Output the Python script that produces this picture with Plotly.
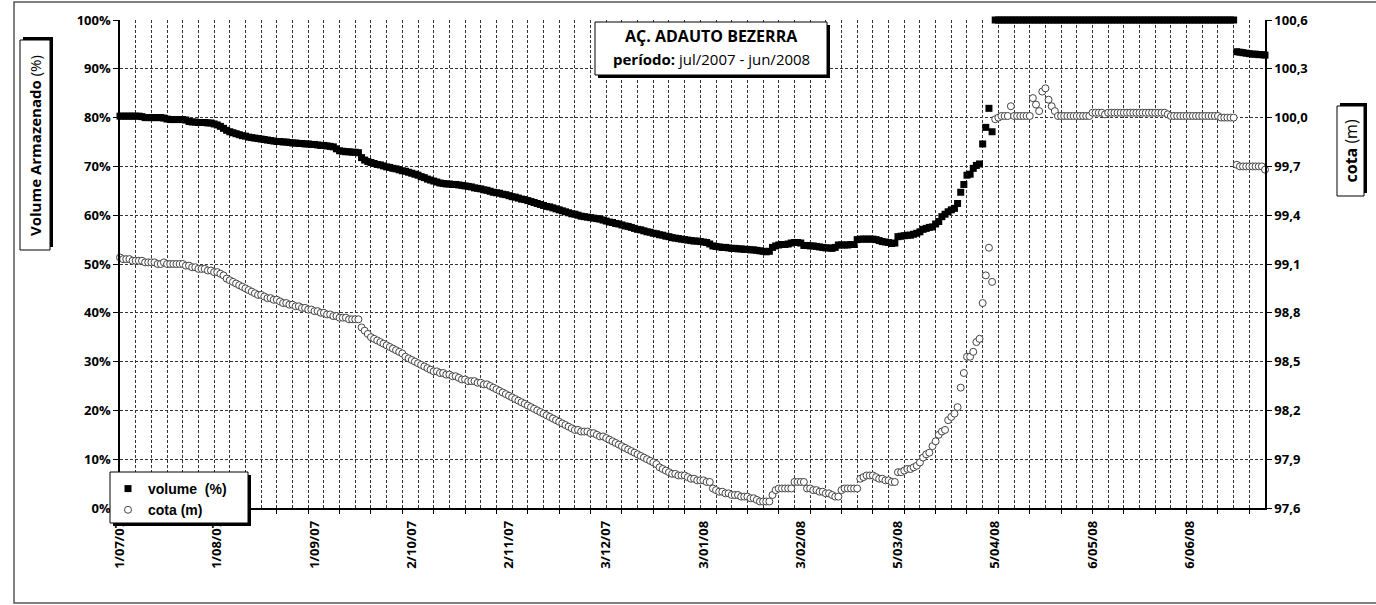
import plotly.graph_objects as go
import pandas as pd

# ---------------- data ----------------
dates = pd.date_range("2007-07-01", "2008-06-30", freq="D")

volume_pct = [
    80.3, 80.3, 80.3, 80.3, 80.3, 80.3, 80.3, 80.2, 80.0, 80.0,
    80.0, 80.0, 80.0, 80.0, 79.9, 79.7, 79.6, 79.6, 79.6, 79.6,
    79.6, 79.5, 79.2, 79.1, 79.1, 79.0, 79.0, 79.0, 78.9, 78.9,
    78.7, 78.5, 78.2, 77.8, 77.4, 77.1, 76.9, 76.7, 76.5, 76.3,
    76.2, 76.0, 75.9, 75.8, 75.7, 75.6, 75.5, 75.4, 75.3, 75.2,
    75.1, 75.1, 75.0, 75.0, 74.9, 74.8, 74.8, 74.7, 74.7, 74.6,
    74.6, 74.5, 74.5, 74.4, 74.3, 74.3, 74.2, 74.1, 74.0, 73.6,
    73.2, 73.1, 73.0, 73.0, 72.9, 72.9, 72.8, 71.8, 71.3, 71.0,
    70.8, 70.6, 70.4, 70.3, 70.1, 69.9, 69.8, 69.6, 69.5, 69.3,
    69.1, 69.0, 68.8, 68.6, 68.4, 68.2, 67.9, 67.7, 67.4, 67.2,
    67.0, 66.8, 66.6, 66.5, 66.4, 66.4, 66.3, 66.3, 66.2, 66.1,
    66.0, 65.9, 65.8, 65.6, 65.5, 65.4, 65.2, 65.1, 64.9, 64.7,
    64.6, 64.5, 64.3, 64.2, 64.0, 63.8, 63.7, 63.5, 63.3, 63.2,
    63.0, 62.8, 62.6, 62.4, 62.2, 62.0, 61.8, 61.7, 61.5, 61.3,
    61.1, 60.9, 60.7, 60.5, 60.3, 60.2, 60.0, 59.8, 59.7, 59.6,
    59.5, 59.4, 59.3, 59.2, 59.0, 58.8, 58.6, 58.5, 58.3, 58.2,
    58.0, 57.8, 57.7, 57.5, 57.3, 57.1, 57.0, 56.8, 56.6, 56.5,
    56.3, 56.2, 56.0, 55.9, 55.7, 55.6, 55.4, 55.3, 55.2, 55.1,
    55.0, 54.9, 54.8, 54.7, 54.7, 54.6, 54.5, 54.4, 54.1, 53.7,
    53.6, 53.5, 53.4, 53.4, 53.3, 53.2, 53.2, 53.1, 53.1, 53.0,
    53.0, 52.9, 52.9, 52.8, 52.7, 52.6, 52.5, 52.6, 53.4, 53.7,
    53.9, 54.0, 54.0, 54.1, 54.3, 54.4, 54.4, 54.3, 53.8, 53.8,
    53.7, 53.7, 53.6, 53.5, 53.4, 53.3, 53.3, 53.2, 53.4, 53.9,
    53.9, 53.9, 53.9, 54.0, 54.0, 55.0, 55.1, 55.1, 55.1, 55.1,
    55.1, 55.0, 54.8, 54.6, 54.5, 54.4, 54.2, 54.3, 55.6, 55.7,
    55.8, 55.9, 55.9, 56.1, 56.3, 56.6, 57.1, 57.3, 57.5, 57.6,
    58.2, 58.7, 59.7, 60.2, 60.7, 61.1, 61.4, 62.4, 64.7, 66.3,
    68.2, 68.4, 69.6, 70.2, 70.5, 74.6, 78.0, 81.9, 77.1, 100.0,
    100.0, 100.0, 100.0, 100.0, 100.0, 100.0, 100.0, 100.0, 100.0, 100.0,
    100.0, 100.0, 100.0, 100.0, 100.0, 100.0, 100.0, 100.0, 100.0, 100.0,
    100.0, 100.0, 100.0, 100.0, 100.0, 100.0, 100.0, 100.0, 100.0, 100.0,
    100.0, 100.0, 100.0, 100.0, 100.0, 100.0, 100.0, 100.0, 100.0, 100.0,
    100.0, 100.0, 100.0, 100.0, 100.0, 100.0, 100.0, 100.0, 100.0, 100.0,
    100.0, 100.0, 100.0, 100.0, 100.0, 100.0, 100.0, 100.0, 100.0, 100.0,
    100.0, 100.0, 100.0, 100.0, 100.0, 100.0, 100.0, 100.0, 100.0, 100.0,
    100.0, 100.0, 100.0, 100.0, 100.0, 100.0, 93.5, 93.4, 93.3, 93.2,
    93.1, 93.0, 93.0, 92.9, 92.9, 92.8,
]

cota_m = [
    99.14, 99.13, 99.13, 99.13, 99.12, 99.12, 99.12, 99.12, 99.11, 99.11,
    99.11, 99.11, 99.10, 99.10, 99.11, 99.10, 99.10, 99.10, 99.10, 99.10,
    99.10, 99.09, 99.09, 99.08, 99.08, 99.07, 99.07, 99.07, 99.06, 99.06,
    99.05, 99.05, 99.04, 99.03, 99.01, 99.00, 98.99, 98.98, 98.97, 98.96,
    98.95, 98.94, 98.93, 98.92, 98.91, 98.91, 98.90, 98.89, 98.89, 98.88,
    98.88, 98.87, 98.86, 98.86, 98.85, 98.85, 98.84, 98.84, 98.83, 98.83,
    98.82, 98.82, 98.81, 98.81, 98.80, 98.80, 98.79, 98.79, 98.78, 98.78,
    98.77, 98.77, 98.77, 98.76, 98.76, 98.76, 98.76, 98.71, 98.69, 98.67,
    98.65, 98.64, 98.63, 98.62, 98.61, 98.60, 98.59, 98.58, 98.57, 98.56,
    98.55, 98.53, 98.52, 98.51, 98.50, 98.49, 98.48, 98.47, 98.46, 98.45,
    98.44, 98.44, 98.43, 98.43, 98.42, 98.42, 98.41, 98.41, 98.40, 98.39,
    98.39, 98.38, 98.38, 98.38, 98.37, 98.37, 98.36, 98.36, 98.35, 98.34,
    98.33, 98.32, 98.31, 98.30, 98.29, 98.28, 98.27, 98.26, 98.25, 98.24,
    98.23, 98.22, 98.21, 98.20, 98.19, 98.18, 98.17, 98.16, 98.15, 98.14,
    98.13, 98.12, 98.11, 98.10, 98.09, 98.08, 98.08, 98.07, 98.07, 98.07,
    98.06, 98.06, 98.05, 98.04, 98.04, 98.03, 98.02, 98.01, 98.00, 97.99,
    97.98, 97.97, 97.96, 97.95, 97.94, 97.93, 97.92, 97.91, 97.90, 97.89,
    97.88, 97.87, 97.85, 97.84, 97.83, 97.82, 97.81, 97.81, 97.80, 97.80,
    97.80, 97.79, 97.78, 97.78, 97.77, 97.77, 97.77, 97.76, 97.76, 97.72,
    97.71, 97.70, 97.70, 97.69, 97.69, 97.68, 97.68, 97.68, 97.67, 97.67,
    97.67, 97.66, 97.66, 97.65, 97.64, 97.64, 97.64, 97.64, 97.68, 97.71,
    97.72, 97.72, 97.72, 97.72, 97.72, 97.76, 97.76, 97.76, 97.76, 97.72,
    97.72, 97.71, 97.71, 97.70, 97.70, 97.69, 97.69, 97.68, 97.67, 97.67,
    97.71, 97.72, 97.72, 97.72, 97.72, 97.72, 97.78, 97.79, 97.80, 97.80,
    97.80, 97.79, 97.78, 97.78, 97.77, 97.77, 97.76, 97.76, 97.82, 97.82,
    97.83, 97.84, 97.84, 97.85, 97.86, 97.88, 97.91, 97.93, 97.94, 97.98,
    98.01, 98.05, 98.07, 98.08, 98.14, 98.16, 98.18, 98.22, 98.34, 98.43,
    98.53, 98.53, 98.56, 98.62, 98.64, 98.86, 99.03, 99.20, 98.99, 99.99,
    100.00, 100.01, 100.01, 100.01, 100.07, 100.01, 100.01, 100.01, 100.01, 100.01,
    100.01, 100.12, 100.08, 100.04, 100.16, 100.18, 100.11, 100.07, 100.04, 100.01,
    100.01, 100.01, 100.01, 100.01, 100.01, 100.01, 100.01, 100.01, 100.01, 100.01,
    100.03, 100.03, 100.03, 100.03, 100.02, 100.03, 100.03, 100.03, 100.03, 100.03,
    100.03, 100.03, 100.03, 100.03, 100.03, 100.03, 100.03, 100.03, 100.03, 100.03,
    100.03, 100.03, 100.03, 100.03, 100.02, 100.01, 100.01, 100.01, 100.01, 100.01,
    100.01, 100.01, 100.01, 100.01, 100.01, 100.01, 100.01, 100.01, 100.01, 100.01,
    100.01, 100.00, 100.00, 100.00, 100.00, 100.00, 99.71, 99.70, 99.70, 99.70,
    99.70, 99.70, 99.70, 99.70, 99.70, 99.68,
]

tick_dates = ["2007-07-01", "2007-08-01", "2007-09-01", "2007-10-02", "2007-11-02", "2007-12-03",
              "2008-01-03", "2008-02-03", "2008-03-05", "2008-04-05", "2008-05-06", "2008-06-06"]
tick_labels = ["1/07/07", "1/08/07", "1/09/07", "2/10/07", "2/11/07", "3/12/07",
               "3/01/08", "3/02/08", "5/03/08", "5/04/08", "6/05/08", "6/06/08"]

# ---------------- layout helpers ----------------
FW, FH = 1376, 605
L, T, W, H = 120, 20, 1145, 488
DAY = 86400000


def px(x):
    return (x - L) / W


def py(y):
    return (T + H - y) / H


def rect(x0, y0, x1, y1, fill, line="black", lw=1):
    return dict(type="rect", xref="paper", yref="paper", layer="above",
                x0=px(x0), x1=px(x1), y0=py(y1), y1=py(y0),
                fillcolor=fill, line=dict(color=line, width=lw))


TICKFONT = dict(family="Open Sans", size=13, color="black", weight="bold")
GRID = dict(gridcolor="#333333", griddash="3px,2px", gridwidth=1)

fig = go.Figure()
fig.add_trace(go.Scatter(
    x=dates, y=volume_pct, name="volume  (%)", mode="markers",
    marker=dict(symbol="square", size=7, color="black", line=dict(width=0)),
    cliponaxis=False, legendgroup="a"))
fig.add_trace(go.Scatter(
    x=dates, y=cota_m, name="cota (m)", mode="markers", yaxis="y2",
    marker=dict(symbol="circle", size=7, color="white", line=dict(color="#444444", width=1)),
    cliponaxis=False, legendgroup="b"))
fig.add_trace(go.Scatter(x=[], y=[], xaxis="x2", yaxis="y", showlegend=False, hoverinfo="skip"))

fig.update_layout(
    width=FW, height=FH,
    margin=dict(l=L, r=FW - L - W, t=T, b=FH - T - H, pad=0),
    plot_bgcolor="white", paper_bgcolor="white",
    separators=",.",
    font=dict(family="Open Sans", color="black"),
    xaxis=dict(
        type="date", range=[dates[0], dates[-1]],
        tickmode="array", tickvals=tick_dates, ticktext=tick_labels,
        tickangle=-90, ticks="", showgrid=False, zeroline=False,
        showline=True, linecolor="black", linewidth=1.5,
        tickfont=TICKFONT, ticklabelstandoff=6,
        minor=dict(tickmode="linear", tick0="2007-07-01", dtick=5 * DAY,
                   showgrid=True, ticks="", **GRID),
    ),
    xaxis2=dict(
        type="date", range=[dates[0], dates[-1]], overlaying="x", anchor="y", side="bottom",
        tickmode="linear", tick0="2007-07-01", dtick=10 * DAY,
        ticks="outside", ticklen=5, tickcolor="black", tickwidth=1,
        showticklabels=False, showgrid=False, showline=False, zeroline=False,
    ),
    yaxis=dict(
        range=[0, 100], tickmode="linear", tick0=0, dtick=10, ticksuffix="%",
        ticks="outside", ticklen=5, tickcolor="black",
        showline=True, linecolor="black", linewidth=1.5,
        showgrid=True, zeroline=False, tickfont=TICKFONT, **GRID,
    ),
    yaxis2=dict(
        range=[97.6, 100.6], overlaying="y", side="right",
        tickmode="linear", tick0=97.6, dtick=0.3, tickformat=".1f",
        ticks="outside", ticklen=5, tickcolor="black",
        showline=True, linecolor="black", linewidth=1.5,
        showgrid=False, zeroline=False, tickfont=TICKFONT,
    ),
    legend=dict(
        x=px(108), y=py(473), xanchor="left", yanchor="top",
        bgcolor="rgba(0,0,0,0)", borderwidth=0,
        font=dict(family="Liberation Sans", size=14, color="black", weight="bold"),
        itemwidth=30, tracegroupgap=4, traceorder="normal",
    ),
    shapes=[
        # outer frame
        rect(14, 2, 1390, 603, "rgba(0,0,0,0)", line="#555555", lw=1.5),
        # title box
        rect(598, 25, 830, 78, "black", lw=0),
        rect(595, 22, 827, 75, "white"),
        # left axis title box
        rect(23, 37, 53, 247, "black", lw=0),
        rect(20, 40, 50, 250, "white"),
        # right axis title box
        rect(1340, 103, 1367, 193, "black", lw=0),
        rect(1337, 106, 1364, 196, "white"),
        # legend box
        rect(113, 475, 251, 526, "black", lw=0),
        rect(110, 472, 248, 523, "white"),
    ],
    annotations=[
        dict(xref="paper", yref="paper", x=px(711), y=py(36), showarrow=False,
             text="<b>AÇ. ADAUTO BEZERRA</b>", xanchor="center", yanchor="middle",
             font=dict(family="Open Sans", size=16, color="black")),
        dict(xref="paper", yref="paper", x=px(711), y=py(59), showarrow=False,
             text="<b>período:</b> jul/2007 - jun/2008", xanchor="center", yanchor="middle",
             font=dict(family="Open Sans", size=15, color="black")),
        dict(xref="paper", yref="paper", x=px(35), y=py(145), showarrow=False,
             text="<b>Volume Armazenado</b> (%)", textangle=-90,
             xanchor="center", yanchor="middle",
             font=dict(family="Open Sans", size=15, color="black")),
        dict(xref="paper", yref="paper", x=px(1350.5), y=py(151), showarrow=False,
             text="<b>cota</b> (m)", textangle=-90,
             xanchor="center", yanchor="middle",
             font=dict(family="Open Sans", size=16, color="black")),
    ],
)

fig.write_html("out.html", config={"displayModeBar": False},
               post_script="document.body.style.margin='0';")
